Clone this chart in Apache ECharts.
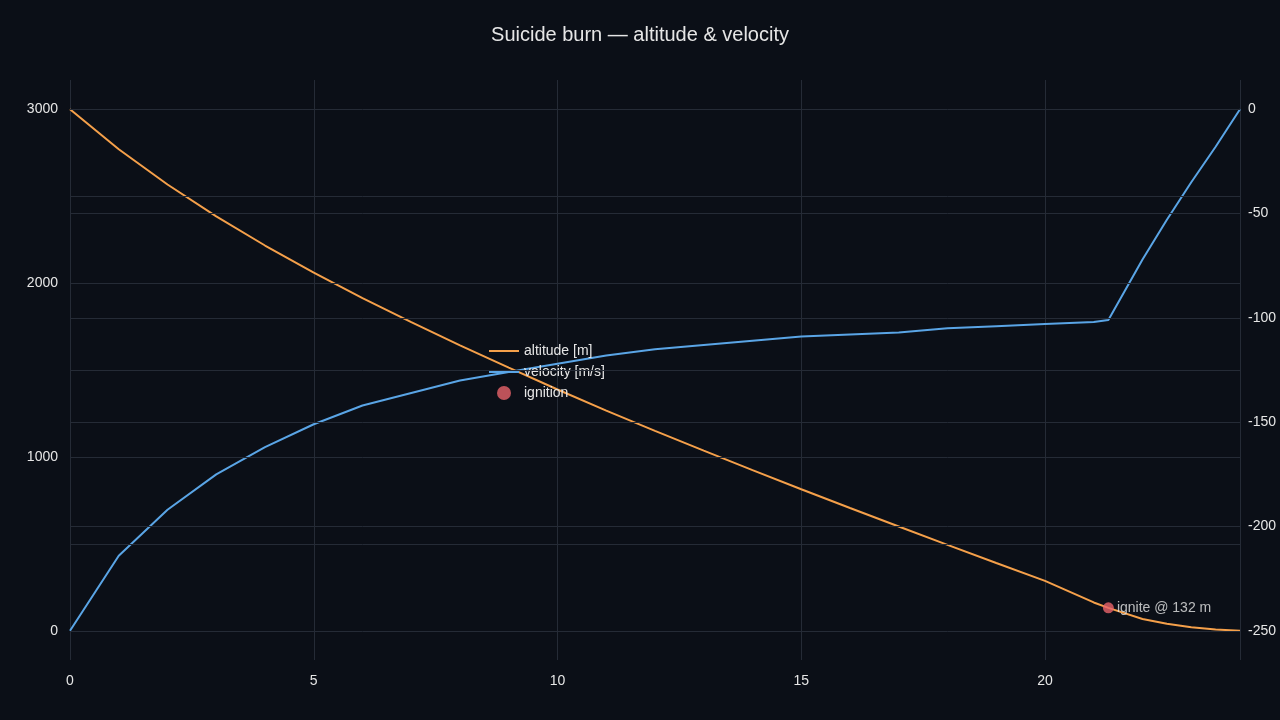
<!DOCTYPE html>
<html><head><meta charset="utf-8">
<script src="https://cdn.jsdelivr.net/npm/echarts@6/dist/echarts.min.js"></script>
<style>html,body{margin:0;background:#0b0f17}#c{width:1280px;height:720px}</style>
</head><body><div id="c"></div>
<script>
const times = [0,1,2,3,4,5,6,7,8,9,10,11,12,13,14,15,16,17,18,19,20,21,21.3,22,22.5,23,23.5,24];
const altitude = [3000,2770,2567,2384,2216,2060,1914,1775,1642,1514,1388,1266,1150,1036,924,814,706,600,494,390,287,163,132,68,40,20,7,0];
const velocity = [-250,-214,-192,-175,-162,-151,-142,-136,-130,-126,-122,-118,-115,-113,-111,-109,-108,-107,-105,-104,-103,-102,-101,-72,-53,-35,-18,0];
const ignitionT = 21.3, ignitionAlt = 132;
const xTicks = [0,5,10,15,20];
const altTicks = [0,500,1000,1500,2000,2500,3000];
const velTicks = [0,-50,-100,-150,-200,-250];

const gridColor = '#252b36';
const lab = {color: '#e6e6e6', fontSize: 14, fontFamily: 'Liberation Sans, Arial'};
const gridLines = vals => ({silent: true, symbol: 'none', label: {show: false},
  lineStyle: {color: gridColor, type: 'solid', width: 1}, emphasis: {disabled: true},
  data: vals.map(v => ({yAxis: v}))});
const chart = echarts.init(document.getElementById('c'));
chart.setOption({
  backgroundColor: '#0b0f17',
  animation: false,
  title: {text: 'Suicide burn — altitude & velocity', left: 'center', top: 20,
    textStyle: {color: '#e6e6e6', fontSize: 20, fontWeight: 'normal', fontFamily: 'Liberation Sans, Arial'}},
  legend: {orient: 'vertical', left: 484, top: 339, itemGap: 7, itemWidth: 30, itemHeight: 14,
    textStyle: lab,
    data: [{name: 'altitude [m]', icon: 'path://M0,0 L30,0 L30,2 L0,2 Z'},
           {name: 'velocity [m/s]', icon: 'path://M0,0 L30,0 L30,2 L0,2 Z'},
           {name: 'ignition', icon: 'circle'}]},
  grid: {left: 70, right: 40, top: 80, bottom: 60, outerBoundsMode: 'none', containLabel: false},
  xAxis: {type: 'value', min: 0, max: 24, interval: 5,
    axisLine: {show: false}, axisTick: {show: false},
    splitLine: {show: true, lineStyle: {color: gridColor}},
    axisLabel: Object.assign({showMaxLabel: false, margin: 14,
      formatter: v => xTicks.includes(v) ? String(v) : ''}, lab)},
  yAxis: [
    {type: 'value', min: -168, max: 3168, interval: 8,
      axisLine: {show: false}, axisTick: {show: false}, splitLine: {show: false},
      axisLabel: Object.assign({margin: 12, interval: 0, hideOverlap: false,
        formatter: v => altTicks.includes(Math.round(v)) ? String(Math.round(v)) : ''}, lab)},
    {type: 'value', min: -264, max: 14, interval: 2, position: 'right',
      axisLine: {show: false}, axisTick: {show: false}, splitLine: {show: false},
      axisLabel: Object.assign({margin: 8, interval: 0, hideOverlap: false,
        formatter: v => velTicks.includes(Math.round(v)) ? String(Math.round(v)) : ''}, lab)}
  ],
  series: [
    {name: 'altitude [m]', type: 'line', yAxisIndex: 0, showSymbol: false, symbol: 'none',
      lineStyle: {color: '#f5a04a', width: 2}, itemStyle: {color: '#f5a04a'},
      markLine: gridLines(altTicks), z: 3,
      data: times.map((t, i) => [t, altitude[i]])},
    {name: 'velocity [m/s]', type: 'line', yAxisIndex: 1, showSymbol: false, symbol: 'none',
      lineStyle: {color: '#5aa5e6', width: 2}, itemStyle: {color: '#5aa5e6'},
      markLine: gridLines([-50,-100,-150,-200]), z: 3,
      data: times.map((t, i) => [t, velocity[i]])},
    {name: 'ignition', type: 'scatter', yAxisIndex: 0, symbolSize: 11, z: 5,
      itemStyle: {color: '#e8636a'},
      label: Object.assign({show: true, position: 'right', distance: 3,
        formatter: 'ignite @ ' + ignitionAlt + ' m'}, lab),
      data: [[ignitionT, ignitionAlt]]}
  ]
});
</script></body></html>
